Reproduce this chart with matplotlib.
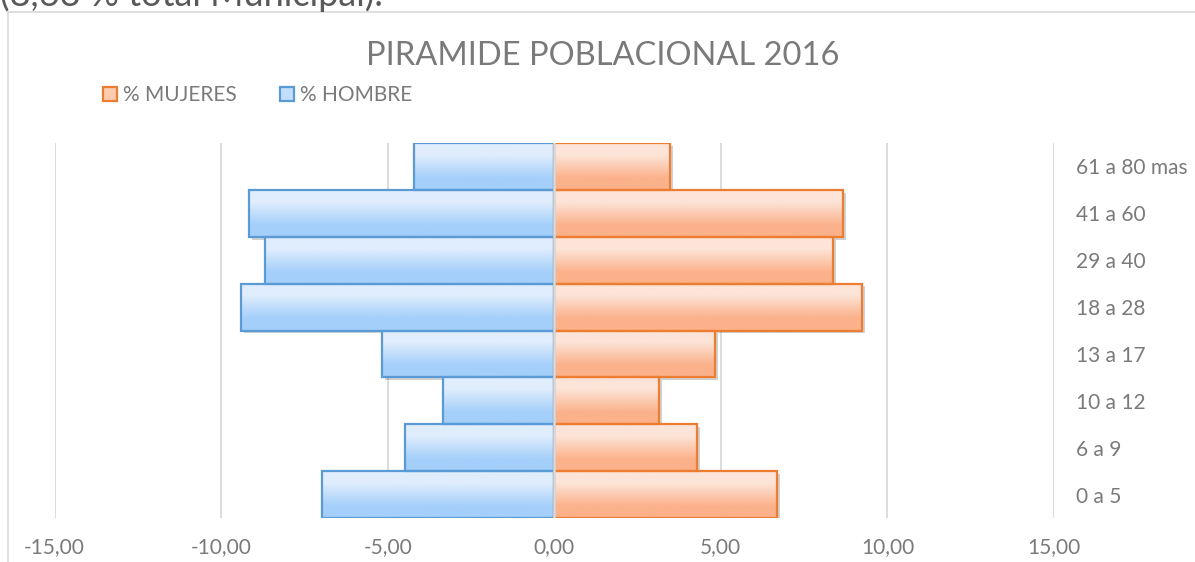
import numpy as np
import matplotlib.pyplot as plt
from matplotlib.patches import Patch
from matplotlib.lines import Line2D
from matplotlib.ticker import FuncFormatter
import matplotlib.patheffects as pe

plt.rcParams['font.family'] = ['Lato', 'DejaVu Sans']

grupos = ['0 a 5', '6 a 9', '10 a 12', '13 a 17', '18 a 28', '29 a 40', '41 a 60', '61 a 80 mas']
mujeres = [6.69, 4.29, 3.14, 4.82, 9.25, 8.37, 8.67, 3.47]
hombres = [6.98, 4.49, 3.34, 5.16, 9.40, 8.68, 9.15, 4.20]
xticks = [-15, -10, -5, 0, 5, 10, 15]

texto_gris = '#7a7a7a'
naranja_borde = '#ED7D31'
azul_borde = '#5B9BD5'

fig = plt.figure(figsize=(11.95, 5.62), dpi=100)
ax = fig.add_axes([54.5 / 1195, 44 / 562, (1054 - 54.5) / 1195, (518 - 143) / 562])

y = np.arange(len(grupos))
izq = [-v for v in hombres]

# sombra
sombra = [pe.SimplePatchShadow(offset=(2, -2), shadow_rgbFace='black', alpha=0.18)]
ax.barh(y, mujeres, height=1, color='white', linewidth=0, zorder=2, path_effects=sombra)
ax.barh(y, izq, height=1, color='white', linewidth=0, zorder=2, path_effects=sombra)

# relleno degradado (fila 0 = abajo, oscuro; fila 1 = arriba, claro)
grad_n = np.array([[[251, 177, 138]], [[253, 228, 216]]]) / 255.0
grad_a = np.array([[[163, 207, 250]], [[224, 237, 253]]]) / 255.0
for i in range(len(grupos)):
    ax.imshow(grad_n, extent=[0, mujeres[i], y[i] - 0.5, y[i] + 0.5], aspect='auto',
              interpolation='bilinear', zorder=2.5, origin='lower')
    ax.imshow(grad_a, extent=[izq[i], 0, y[i] - 0.5, y[i] + 0.5], aspect='auto',
              interpolation='bilinear', zorder=2.5, origin='lower')

# bordes
ax.barh(y, mujeres, height=1, facecolor='none', edgecolor=naranja_borde, linewidth=1.6, zorder=3)
ax.barh(y, izq, height=1, facecolor='none', edgecolor=azul_borde, linewidth=1.6, zorder=3)

ax.axvline(0, color='#d9d9d9', linewidth=1.8, zorder=4)

ax.set_xlim(-15, 15)
ax.set_ylim(-0.5, len(grupos) - 0.5)
ax.set_xticks(xticks)
ax.xaxis.set_major_formatter(FuncFormatter(lambda v, p: ('%.2f' % v).replace('.', ',')))
ax.set_yticks(y)
ax.set_yticklabels(grupos)
ax.yaxis.tick_right()
ax.tick_params(axis='both', length=0, labelsize=15, labelcolor=texto_gris)
ax.tick_params(axis='x', pad=14)
ax.tick_params(axis='y', pad=16)
ax.grid(axis='x', color='#d9d9d9', linewidth=1.3, zorder=0)
ax.set_axisbelow(True)
for s in ax.spines.values():
    s.set_visible(False)

fig.text(603 / 1195, 1 - 56 / 562, 'PIRAMIDE POBLACIONAL 2016', ha='center', va='center',
         fontsize=23.5, color=texto_gris)

handles = [Patch(facecolor='#FCCBB0', edgecolor=naranja_borde, linewidth=1.6),
           Patch(facecolor='#C2DEFB', edgecolor=azul_borde, linewidth=1.6)]
fig.legend(handles, ['% MUJERES', '% HOMBRE'], loc='center left',
           bbox_to_anchor=(103 / 1195, 1 - 95 / 562), ncol=2, frameon=False,
           borderpad=0, borderaxespad=0,
           fontsize=15, labelcolor=texto_gris, handlelength=0.65, handleheight=0.65,
           handletextpad=0.3, columnspacing=2.1)

# marco del grafico y texto cortado arriba
fig.add_artist(Line2D([8 / 1195, 8 / 1195], [0, 1 - 12 / 562], color='#d9d9d9', linewidth=1.2))
fig.add_artist(Line2D([8 / 1195, 1], [1 - 12 / 562, 1 - 12 / 562], color='#d9d9d9', linewidth=1.2))
fig.text(0, 1 - 6 / 562, '(8,63 % total Municipal).', ha='left', va='baseline',
         fontsize=26, color='#595959')

fig.savefig('out.png', dpi=100)
